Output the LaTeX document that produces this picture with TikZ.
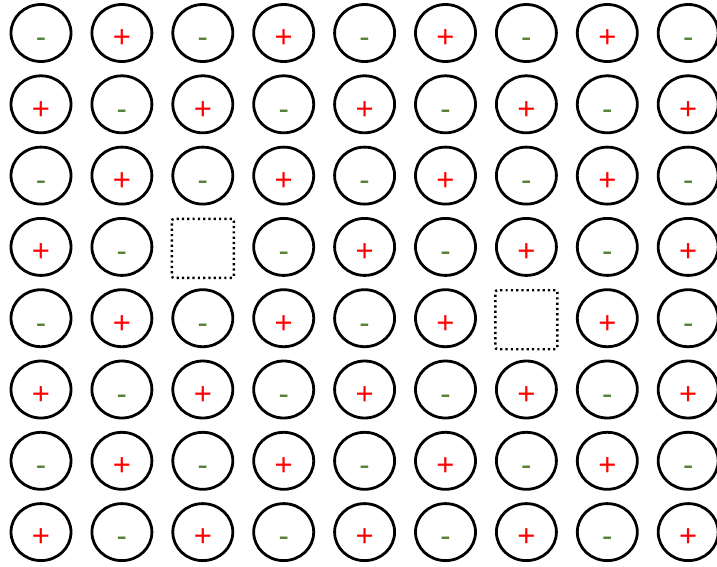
\documentclass[tikz,border=0pt]{standalone}
\usepackage{fontspec}
\setmainfont{Liberation Sans}
\usetikzlibrary{shapes.geometric}
\definecolor{signred}{RGB}{255,0,0}
\definecolor{signgreen}{RGB}{84,130,53}
\tikzset{
  cell/.style={draw=black, line width=2.8pt, ellipse, minimum width=60pt, minimum height=57pt, inner sep=0pt},
  plussign/.style={text=signred, font=\fontsize{31}{31}\selectfont, inner sep=0pt, anchor=base},
  minussign/.style={text=signgreen, font=\fontsize{31}{31}\selectfont, inner sep=0pt, anchor=base},
  hole/.style={draw=black, line width=2.4pt, dash pattern=on 2.2pt off 3.1pt, rounded corners=2pt, minimum width=62pt, minimum height=59pt, inner sep=0pt}
}
\begin{document}
\begin{tikzpicture}[x=1pt,y=1pt]
\useasboundingbox (0,0) rectangle (717,-566);
\foreach \r in {0,...,7}{
  \foreach \c in {0,...,8}{
    \pgfmathsetmacro{\cx}{41+80.9*\c}
    \pgfmathsetmacro{\cy}{-(33+71.3*\r)}
    \pgfmathtruncatemacro{\parity}{mod(\r+\c,2)}
    \pgfmathtruncatemacro{\isholeA}{(\r==3)&&(\c==2)}
    \pgfmathtruncatemacro{\isholeB}{(\r==4)&&(\c==6)}
    \ifnum\isholeA=1
      \node[hole] (h-\r-\c) at (\cx,\cy-1.5) {};
    \else\ifnum\isholeB=1
      \node[hole] (h-\r-\c) at (\cx,\cy-1.5) {};
    \else
      \node[cell] (e-\r-\c) at (\cx,\cy) {};
      \ifnum\parity=0
        \node[minussign] (s-\r-\c) at ([yshift=-14.8pt]e-\r-\c.center) {-};
      \else
        \node[plussign] (s-\r-\c) at ([yshift=-14.8pt]e-\r-\c.center) {+};
      \fi
    \fi\fi
  }
}
\end{tikzpicture}
\end{document}
